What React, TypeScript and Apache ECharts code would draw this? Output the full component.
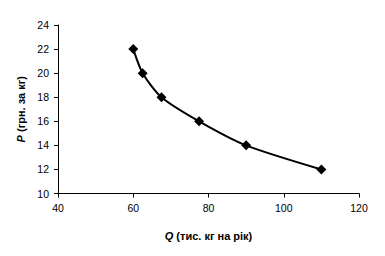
import React, { useEffect, useRef } from "react";
import * as echarts from "echarts";

const quantities = [60, 62.5, 67.5, 77.5, 90, 110];
const prices = [22, 20, 18, 16, 14, 12];
const xTitle = "Q";
const xTitleRest = " (тис. кг на рік)";
const yTitle = "P";
const yTitleRest = " (грн. за кг)";

export default function App() {
  const ref = useRef<HTMLDivElement>(null);
  useEffect(() => {
    document.body.style.margin = "0";
    const chart = echarts.init(ref.current!, null, { renderer: "svg" });
    const font = "'Liberation Sans', Arial, sans-serif";
    const rich = {
      i: { fontStyle: "italic", fontWeight: "bold", fontSize: 11, fontFamily: font, color: "#000" },
      b: { fontWeight: "bold", fontSize: 11, fontFamily: font, color: "#000" },
    };
    chart.setOption({
      animation: false,
      backgroundColor: "#ffffff",
      grid: { left: 58, right: 26, top: 25, bottom: 62.5 },
      xAxis: {
        type: "value",
        min: 40,
        max: 120,
        interval: 20,
        name: `{i|${xTitle}}{b|${xTitleRest}}`,
        nameLocation: "middle",
        nameGap: 37,
        nameTextStyle: { rich },
        axisLine: { show: true, lineStyle: { color: "#000", width: 1 } },
        axisTick: { show: true, length: 4, lineStyle: { color: "#000" } },
        axisLabel: { color: "#000", fontSize: 10.5, fontFamily: font, margin: 9 },
        splitLine: { show: false },
      },
      yAxis: {
        type: "value",
        min: 10,
        max: 24,
        interval: 2,
        name: `{i|${yTitle}}{b|${yTitleRest}}`,
        nameLocation: "middle",
        nameGap: 32,
        nameRotate: 90,
        nameTextStyle: { rich },
        axisLine: { show: true, lineStyle: { color: "#000", width: 1 } },
        axisTick: { show: true, length: 4, lineStyle: { color: "#000" } },
        axisLabel: { color: "#000", fontSize: 10.5, fontFamily: font, margin: 9 },
        splitLine: { show: false },
      },
      series: [
        {
          type: "line",
          data: quantities.map((q, i) => [q, prices[i]]),
          smooth: 0.25,
          symbol: "diamond",
          symbolSize: 10,
          itemStyle: { color: "#000" },
          lineStyle: { color: "#000", width: 2 },
        },
      ],
    });
    return () => chart.dispose();
  }, []);
  return <div ref={ref} style={{ width: 385, height: 256 }} />;
}
